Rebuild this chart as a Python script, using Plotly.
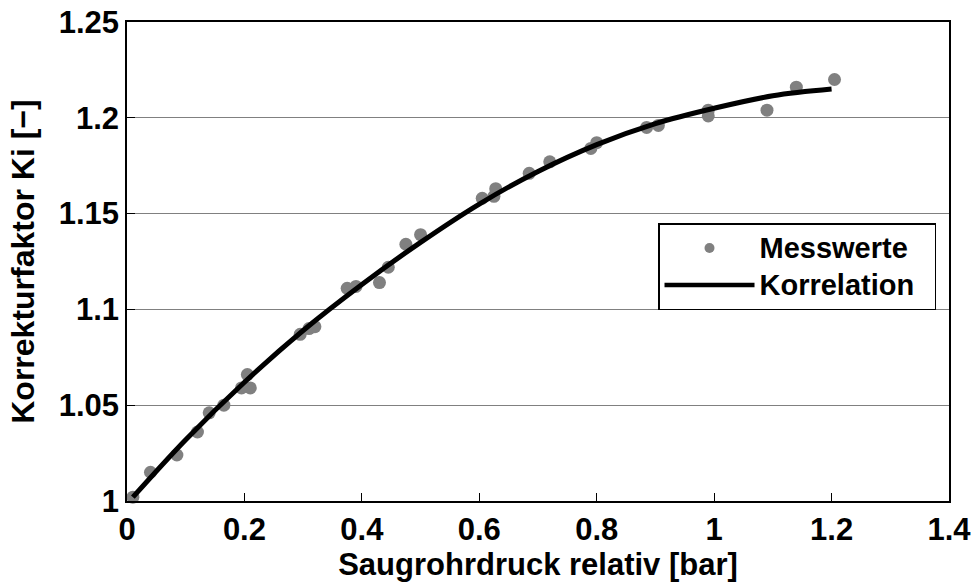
import plotly.graph_objects as go

# Measured data (Messwerte)
mess_x = [0.01, 0.04, 0.085, 0.12, 0.14, 0.165, 0.195, 0.205, 0.21, 0.295, 0.31, 0.32,
          0.375, 0.39, 0.43, 0.445, 0.475, 0.50, 0.605, 0.625, 0.628, 0.685, 0.72,
          0.79, 0.80, 0.885, 0.905, 0.99, 0.99, 1.09, 1.14, 1.205]
mess_y = [1.002, 1.015, 1.024, 1.036, 1.046, 1.050, 1.059, 1.066, 1.059, 1.087, 1.090, 1.091,
          1.111, 1.112, 1.114, 1.122, 1.134, 1.139, 1.158, 1.159, 1.163, 1.171, 1.177,
          1.184, 1.187, 1.195, 1.196, 1.201, 1.204, 1.204, 1.216, 1.220]

# Correlation curve (Korrelation)
korr_x = [0.01, 0.1, 0.2, 0.3, 0.4, 0.5, 0.6, 0.7, 0.8, 0.9, 1.0, 1.1, 1.2]
korr_y = [1.002, 1.032, 1.062, 1.089, 1.113, 1.135, 1.155, 1.172, 1.186, 1.197, 1.205, 1.2115, 1.215]

x_ticks = [0, 0.2, 0.4, 0.6, 0.8, 1, 1.2, 1.4]
x_ticklabels = ["0", "0.2", "0.4", "0.6", "0.8", "1", "1.2", "1.4"]
y_ticks = [1, 1.05, 1.1, 1.15, 1.2, 1.25]
y_ticklabels = ["1", "1.05", "1.1", "1.15", "1.2", "1.25"]

FONT = "Liberation Sans, Arial, sans-serif"
PAD = "&nbsp;" * 2


def legend_label(t):
    return '<span style="font-size:29px"><b>%s</b></span>%s' % (t, PAD)


fig = go.Figure()
fig.add_trace(go.Scatter(
    x=mess_x, y=mess_y, mode="markers", name="Messwerte", showlegend=False,
    marker=dict(color="#808080", size=13), cliponaxis=False,
))
fig.add_trace(go.Scatter(
    x=korr_x, y=korr_y, mode="lines", name="Korrelation", showlegend=False,
    line=dict(color="black", width=5, shape="spline", smoothing=1.0), cliponaxis=False,
))
# legend entries
fig.add_trace(go.Scatter(
    x=[None], y=[None], mode="markers", name=legend_label("Messwerte"),
    marker=dict(color="#808080", size=10),
))
fig.add_trace(go.Scatter(
    x=[None], y=[None], mode="lines", name=legend_label("Korrelation"),
    line=dict(color="black", width=4.5),
))

fig.update_layout(
    width=972, height=584,
    margin=dict(l=127, r=23, t=22, b=83),
    paper_bgcolor="white", plot_bgcolor="white",
    font=dict(family=FONT, color="black", size=26),
    showlegend=True,
    legend=dict(
        x=0.646, y=0.580, xanchor="left", yanchor="top",
        bordercolor="black", borderwidth=1.5, bgcolor="white",
        font=dict(family=FONT, size=26, color="black"),
        itemwidth=90, tracegroupgap=0,
    ),
    xaxis=dict(
        range=[0, 1.4], tickvals=x_ticks, ticktext=["<b>%s</b>" % t for t in x_ticklabels],
        ticks="inside", ticklen=8, tickcolor="black", tickwidth=1,
        showline=True, linecolor="black", linewidth=1.5, mirror=True,
        showgrid=False, zeroline=False, automargin=False, ticklabeloverflow="allow",
        tickfont=dict(family=FONT, size=31),
        title=dict(text="<b>Saugrohrdruck relativ [bar]</b>", font=dict(family=FONT, size=31), standoff=2),
    ),
    yaxis=dict(
        range=[1, 1.25], tickvals=y_ticks, ticktext=["<b>%s</b>" % t for t in y_ticklabels],
        ticks="inside", ticklen=8, tickcolor="black", tickwidth=1,
        showline=True, linecolor="black", linewidth=1.5, mirror=True,
        showgrid=True, gridcolor="#808080", gridwidth=1.2, zeroline=False, automargin=False,
        ticklabeloverflow="allow",
        tickfont=dict(family=FONT, size=31),
        title=dict(text="<b>Korrekturfaktor Ki [−]</b>", font=dict(family=FONT, size=32), standoff=15),
    ),
)

fig.write_html(
    "out.html",
    config={"displayModeBar": False},
    post_script="document.body.style.margin='0';document.body.style.overflow='hidden';",
)
